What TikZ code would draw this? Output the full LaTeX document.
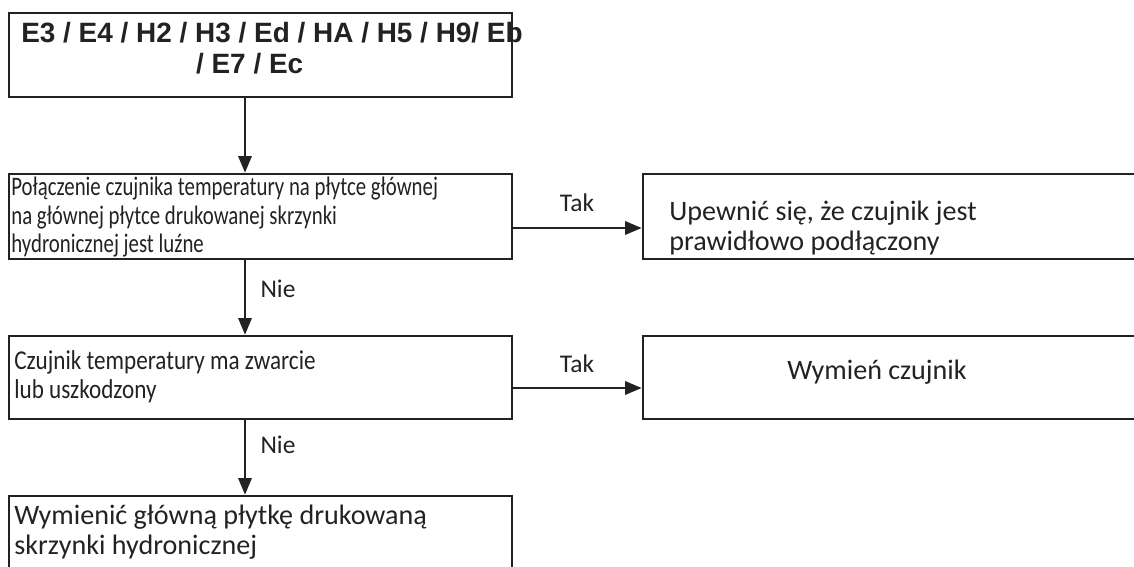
\documentclass[tikz,border=0pt]{standalone}
\usepackage{fontspec}
\setmainfont{Carlito}
\newfontfamily\headfont{Liberation Sans}
\newfontfamily\narrowfont{Carlito}[FakeStretch=0.78]
\newfontfamily\semifont{Carlito}[FakeStretch=0.85]
\usetikzlibrary{arrows.meta}

\definecolor{ink}{HTML}{222222}

\begin{document}
\begin{tikzpicture}[x=0.02cm, y=-0.02cm,
  box/.style={draw=ink, line width=1.4pt, rectangle, inner sep=0pt},
  flow/.style={draw=ink, line width=1.5pt, -{Triangle[length=9.5pt, width=7.5pt]}},
  txt/.style={inner sep=0pt, text=ink, align=left, font=\fontsize{16}{17}\selectfont},
  narrowtxt/.style={inner sep=0pt, text=ink, align=left, font=\narrowfont\fontsize{15.2}{16.2}\selectfont},
  semitxt/.style={inner sep=0pt, text=ink, align=left, font=\semifont\fontsize{15.5}{16.4}\selectfont},
  headtxt/.style={inner sep=0pt, text=ink, align=center, font=\headfont\bfseries\fontsize{15.9}{18}\selectfont},
  yesno/.style={inner sep=0pt, text=ink, font=\fontsize{14.5}{16}\selectfont}
]
\useasboundingbox (0,0) rectangle (1134,567);
\clip (0,0) rectangle (1134,567);

% boxes
\node[box, minimum width=10.06cm, minimum height=1.68cm] (top) at (260.5,55) {};
\node[box, minimum width=10.06cm, minimum height=1.70cm] (q1) at (260.5,216.5) {};
\node[box, minimum width=10.34cm, minimum height=1.70cm] (a1) at (901.5,216.5) {};
\node[box, minimum width=10.06cm, minimum height=1.66cm] (q2) at (260.5,377.5) {};
\node[box, minimum width=10.34cm, minimum height=1.66cm] (a2) at (901.5,377.5) {};
\node[box, minimum width=10.06cm, minimum height=2.48cm] (fin) at (260.5,558) {};

% texts
\node[headtxt] (toptext) at (272,48) {E3 / E4 / H2 / H3 / Ed / HA / H5 / H9/ Eb\\/ E7 / Ec\hspace*{1.6em}};
\node[narrowtxt, anchor=north west] (q1text) at (11,177)
  {Połączenie czujnika temperatury na płytce głównej\\na głównej płytce drukowanej skrzynki\\hydronicznej jest luźne};
\node[txt, anchor=north west] (a1text) at (669,201)
  {Upewnić się, że czujnik jest\\prawidłowo podłączony};
\node[semitxt, anchor=north west] (q2text) at (14,350)
  {Czujnik temperatury ma zwarcie\\lub uszkodzony};
\node[txt] (a2text) at (877,372) {Wymień czujnik};
\node[txt, anchor=north west] (fintext) at (14,505)
  {Wymienić główną płytkę drukowaną\\skrzynki hydronicznej};

% connector guides
\coordinate (spine) at (245,0);
\coordinate (row1) at (0,228);
\coordinate (row2) at (0,388);

% connectors
\draw[flow] (top.south -| spine) -- (q1.north -| spine);
\draw[flow] (q1.south -| spine) -- (q2.north -| spine);
\draw[flow] (q2.south -| spine) -- (fin.north -| spine);
\draw[flow] (q1.east |- row1) -- (a1.west |- row1);
\draw[flow] (q2.east |- row2) -- (a2.west |- row2);

% branch labels
\node[yesno] (tak1) at (577,203) {Tak};
\node[yesno] (tak2) at (577,364) {Tak};
\node[yesno] (nie1) at (278,289) {Nie};
\node[yesno] (nie2) at (278,445) {Nie};
\end{tikzpicture}
\end{document}
